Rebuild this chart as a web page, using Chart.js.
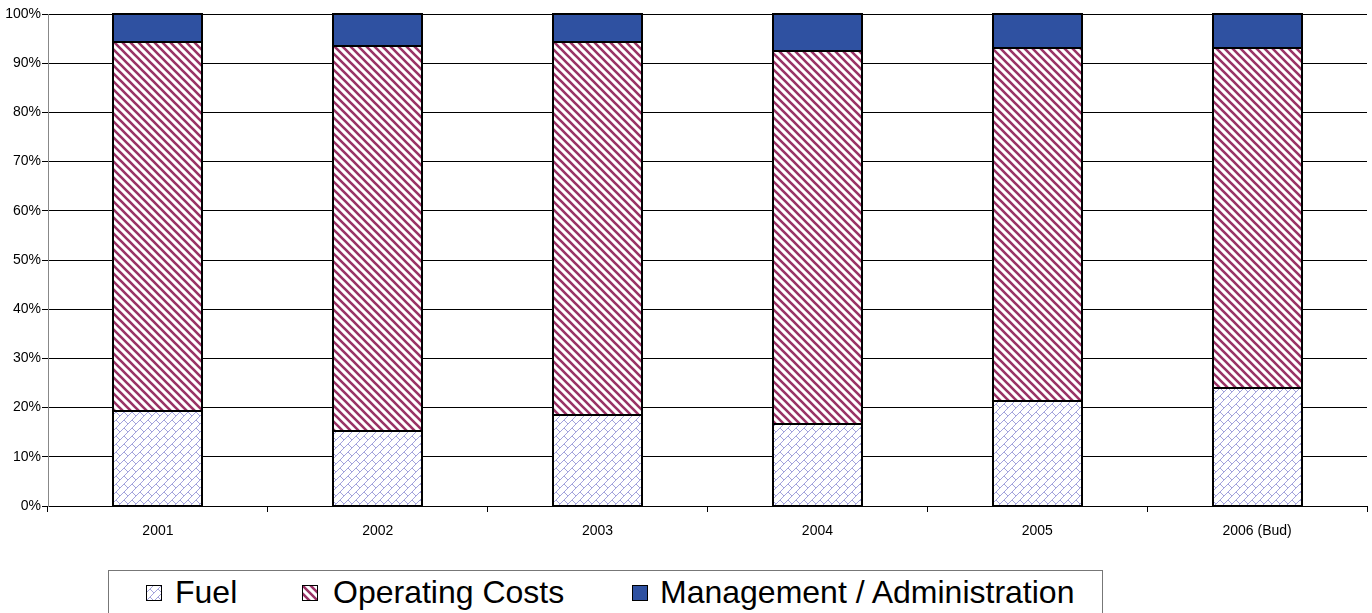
<!DOCTYPE html>
<html>
<head>
<meta charset="utf-8">
<script src="https://cdn.jsdelivr.net/npm/chart.js"></script>
<style>
  body { margin: 0; background: #fff; font-family: "Liberation Sans", Arial, sans-serif; }
  #wrap { position: relative; width: 1372px; height: 613px; overflow: hidden; }
  #chart { position: absolute; left: 0; top: 0; }
  #legend { position: absolute; left: 108px; top: 570px; width: 995px; height: 60px; border: 1px solid #777; box-sizing: border-box; }
  .sw { position: absolute; top: 14px; }
  .txt { position: absolute; top: 3px; font-size: 32px; line-height: 36px; color: #000; white-space: nowrap; }
</style>
</head>
<body>
<div id="wrap">
  <canvas id="chart" width="1372" height="560"></canvas>
  <div id="legend"></div>
</div>
<script>
const years = ['2001', '2002', '2003', '2004', '2005', '2006 (Bud)'];
const fuel = [19.3, 15.3, 18.4, 16.6, 21.4, 24.0];
const operating = [75.1, 78.2, 75.9, 75.9, 71.6, 69.0];
const management = [5.6, 6.5, 5.7, 7.5, 7.0, 7.0];
const seriesNames = ['Fuel', 'Operating Costs', 'Management / Administration'];

const FONT = '"Liberation Sans", Arial, sans-serif';
const ctx = document.getElementById('chart').getContext('2d');

// diagonal brick (fuel)
function brickPattern() {
  const c = document.createElement('canvas');
  c.width = 8; c.height = 8;
  const g = c.getContext('2d');
  g.fillStyle = '#fff';
  g.fillRect(0, 0, 8, 8);
  g.strokeStyle = '#a3a3dc';
  g.lineWidth = 1;
  g.beginPath();
  g.moveTo(-1, 9); g.lineTo(9, -1);
  g.moveTo(-1, 1); g.lineTo(1, -1);
  g.moveTo(7, 9); g.lineTo(9, 7);
  g.moveTo(4, 4); g.lineTo(9, 9);
  g.stroke();
  return ctx.createPattern(c, 'repeat');
}

// wide downward diagonal (operating costs)
function stripePattern() {
  const c = document.createElement('canvas');
  c.width = 8; c.height = 8;
  const g = c.getContext('2d');
  g.fillStyle = '#fff';
  g.fillRect(0, 0, 8, 8);
  g.strokeStyle = '#993366';
  g.lineWidth = 2.6;
  g.beginPath();
  g.moveTo(-2, -2); g.lineTo(10, 10);
  g.moveTo(-2, 6); g.lineTo(2, 10);
  g.moveTo(6, -2); g.lineTo(10, 2);
  g.stroke();
  return ctx.createPattern(c, 'repeat');
}

const fills = [brickPattern(), stripePattern(), '#2f51a1'];
const values = [fuel, operating, management];

// even 2px black outline round every segment
const outline = {
  id: 'outline',
  afterDatasetsDraw: function (chart) {
    const c = chart.ctx;
    c.save();
    c.strokeStyle = '#000';
    c.lineWidth = 2;
    chart.data.datasets.forEach(function (ds, i) {
      chart.getDatasetMeta(i).data.forEach(function (bar) {
        const p = bar.getProps(['x', 'y', 'base', 'width'], true);
        const l = Math.round(p.x - p.width / 2), r = Math.round(p.x + p.width / 2);
        const t = Math.round(p.y), b = Math.round(p.base);
        c.strokeRect(l, t, r - l, b - t);
      });
    });
    c.restore();
  }
};

new Chart(ctx, {
  type: 'bar',
  data: {
    labels: years,
    datasets: seriesNames.map(function (name, i) {
      return {
        label: name,
        data: values[i],
        backgroundColor: fills[i],
        borderWidth: 0
      };
    })
  },
  options: {
    responsive: false,
    animation: false,
    datasets: { bar: { categoryPercentage: 1, barPercentage: 0.405 } },
    layout: { padding: { top: 14, right: 5, left: 0, bottom: 0 } },
    plugins: { legend: { display: false }, tooltip: { enabled: false } },
    scales: {
      x: {
        stacked: true,
        grid: { offset: true, drawOnChartArea: false, color: '#000', tickLength: 6 },
        border: { color: '#000' },
        ticks: { color: '#000', font: { size: 14, family: FONT }, padding: 11, maxRotation: 0 },
        afterFit: function (s) { s.height = 54; }
      },
      y: {
        stacked: true,
        min: 0,
        max: 100,
        ticks: { stepSize: 10, color: '#000', font: { size: 14, family: FONT }, padding: 1,
          callback: function (v) { return v + '%'; } },
        grid: { color: '#000', tickLength: 6 },
        border: { color: '#888' },
        afterFit: function (s) { s.width = 48; }
      }
    }
  },
  plugins: [outline]
});

// legend (page x positions minus box offset)
const swatchX = [146, 302, 632];
const textX = [175, 333, 660];
const legend = document.getElementById('legend');
seriesNames.forEach(function (name, i) {
  const sw = document.createElement('canvas');
  sw.className = 'sw';
  sw.width = 16; sw.height = 16;
  sw.style.left = (swatchX[i] - 109) + 'px';
  const g = sw.getContext('2d');
  g.fillStyle = fills[i];
  g.fillRect(0, 0, 16, 16);
  g.strokeStyle = '#000';
  g.lineWidth = 1;
  g.strokeRect(0.5, 0.5, 15, 15);
  legend.appendChild(sw);
  const t = document.createElement('span');
  t.className = 'txt';
  t.style.left = (textX[i] - 109) + 'px';
  t.textContent = name;
  legend.appendChild(t);
});
</script>
</body>
</html>
